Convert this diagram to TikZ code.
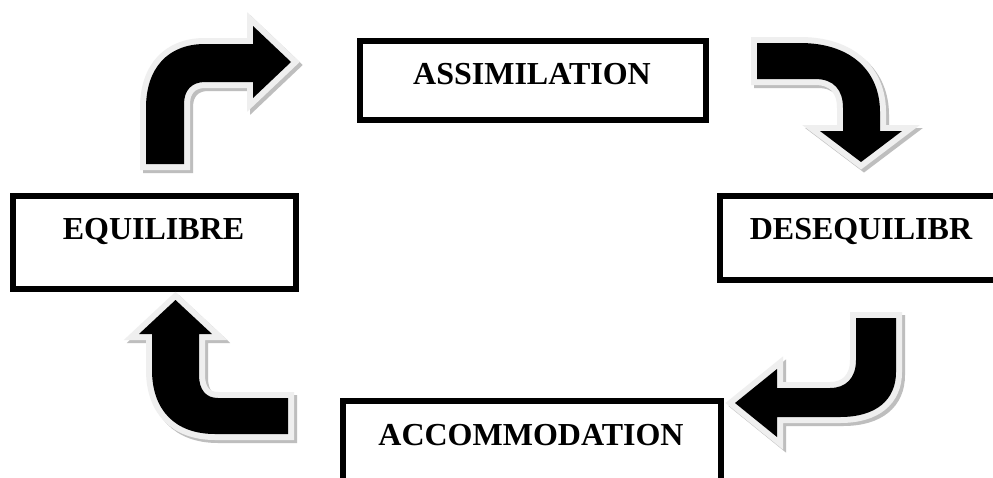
\documentclass[tikz,border=0pt]{standalone}
\usepackage{fontspec}
\setmainfont{Liberation Serif}
\definecolor{rimgray}{HTML}{EFEFEF}
\definecolor{shadowgray}{HTML}{BEBEBE}
% Thick bent arrow: offset shadow, light rim, black body
\newcommand{\bentarrow}[1]{%
  \path[shadowpart, shift={(3,3)}] #1;
  \path[rimpart] #1;
  \path[fill=black] #1;
}
\begin{document}
\begin{tikzpicture}[x=1pt, y=-1pt,
  frame/.style={draw=black, line width=6pt},
  boxtext/.style={font=\fontsize{32}{38}\selectfont\bfseries, anchor=base, inner sep=0pt},
  shadowpart/.style={fill=shadowgray, draw=shadowgray, line width=12pt, line join=miter},
  rimpart/.style={draw=rimgray, line width=12pt, line join=miter}]
\useasboundingbox (0,0) rectangle (993,477);
\clip (0,0) rectangle (993,477);
\fill[white] (0,0) rectangle (993,477);

% frames
\draw[frame] (360,41) rectangle (706,120);
\draw[frame] (13,196) rectangle (296,289);
\draw[frame] (720,196) rectangle (1010,280);
\draw[frame] (343,401) rectangle (721,500);

% labels
\node[boxtext] (assim) at (532,84) {ASSIMILATION};
\node[boxtext] (equil) at (153.5,239) {EQUILIBRE};
\node[boxtext] (deseq) at (861,239) {DESEQUILIBR};
\node[boxtext] (accom) at (531,445) {ACCOMMODATION};

% equilibre -> assimilation
\bentarrow{(146,164) -- (146,108) .. controls (146,68) and (168,44) .. (205,44)
  -- (253,44) -- (253,26) -- (291,62) -- (253,98) -- (253,82) -- (205,82)
  .. controls (192,82) and (184,90) .. (184,104) -- (184,164) -- cycle}

% assimilation -> desequilibre
\bentarrow{(757,43) -- (800,43) .. controls (852,43) and (880,72) .. (880,112)
  -- (880,131) -- (902,131) -- (861,162) -- (820,131) -- (843,131) -- (843,108)
  .. controls (843,90) and (834,79) .. (815,79) -- (757,79) -- cycle}

% desequilibre -> accommodation
\bentarrow{(856,318) -- (896,318) -- (896,372) .. controls (896,400) and (876,417) .. (840,417)
  -- (777,417) -- (777,437) -- (735,403) -- (777,369) -- (777,388) -- (830,388)
  .. controls (846,388) and (856,378) .. (856,360) -- cycle}

% accommodation -> equilibre
\bentarrow{(288,398) -- (218,398) .. controls (206,398) and (199,390) .. (199,375)
  -- (199,334) -- (212,334) -- (175.5,300) -- (139,334) -- (152,334) -- (152,370)
  .. controls (152,410) and (175,434) .. (215,434) -- (288,434) -- cycle}
\end{tikzpicture}
\end{document}
